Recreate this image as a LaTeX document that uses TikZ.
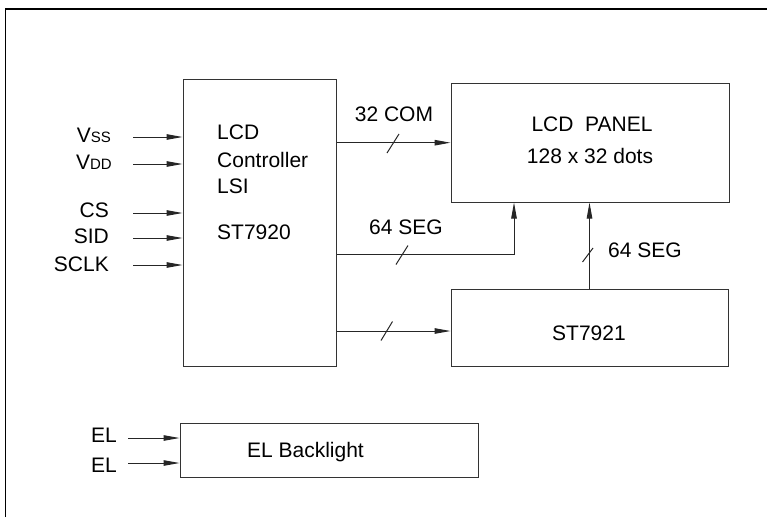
\documentclass[tikz,border=0pt]{standalone}
\usepackage{fontspec}
\setmainfont{Liberation Sans}
\usetikzlibrary{arrows.meta}
\begin{document}
\begin{tikzpicture}[x=1pt,y=-1pt,
  box/.style={draw=black!80,line width=1pt,inner sep=0pt},
  lbl/.style={inner sep=0pt,font=\fontsize{21}{25}\selectfont},
  arr/.style={draw=black!85,line width=1pt,-{Triangle[length=16pt,width=5.5pt]}},
  wire/.style={draw=black!85,line width=1pt},
  slash/.style={draw=black!85,line width=1pt}]
\useasboundingbox (0,0) rectangle (767,517);
% frame
\draw[line width=1.5pt] (5.5,517) -- (5.5,9) -- (767,9);
% boxes
\node[box,minimum width=153.5pt,minimum height=287pt] (ctrl) at (259.75,222.5) {};
\node[box,minimum width=278pt,minimum height=119pt] (panel) at (590,142.5) {};
\node[box,minimum width=277pt,minimum height=77pt] (st) at (589.5,327.5) {};
\node[box,minimum width=298pt,minimum height=54pt] (el) at (329,450) {};
% box texts
\node[lbl,anchor=base west] (t1) at (217,139) {LCD};
\node[lbl,anchor=base west] (t2) at (217,167) {Controller};
\node[lbl,anchor=base west] (t3) at (217,193) {LSI};
\node[lbl,anchor=base west] (t4) at (217,239) {ST7920};
\node[lbl,anchor=base] (p1) at (592,131) {LCD\ \ PANEL};
\node[lbl,anchor=base] (p2) at (590,163) {128 x 32 dots};
\node[lbl,anchor=base] (s1) at (589,340) {ST7921};
\node[lbl,anchor=base] (e1) at (305.5,457) {EL Backlight};
% left inputs
\node[lbl,anchor=base east] (vss) at (111,142) {V{\fontsize{15}{18}\selectfont SS}};
\node[lbl,anchor=base east] (vdd) at (112,169) {V{\fontsize{15}{18}\selectfont DD}};
\node[lbl,anchor=base east] (cs) at (109,217) {CS};
\node[lbl,anchor=base east] (sid) at (109,243) {SID};
\node[lbl,anchor=base east] (sclk) at (109,271.5) {SCLK};
\node[lbl,anchor=base east] (el1) at (117,442) {EL};
\node[lbl,anchor=base east] (el2) at (117,472) {EL};
\coordinate (a1) at (133,137);
\coordinate (a2) at (133,164);
\coordinate (a3) at (133,213);
\coordinate (a4) at (133,238);
\coordinate (a5) at (133,265);
\coordinate (b1) at (128,438);
\coordinate (b2) at (128,463);
\foreach \c in {a1,a2,a3,a4,a5} \draw[arr] (\c) -- (ctrl.west |- \c);
\foreach \c in {b1,b2} \draw[arr] (\c) -- (el.west |- \c);
% buses
\coordinate (com) at (336,142.7);
\coordinate (seg) at (514,254);
\coordinate (s3) at (336,331);
\draw[arr] (ctrl.east |- com) -- (panel.west |- com);
\draw[arr] (ctrl.east |- seg) -| (panel.south -| seg);
\draw[arr] (ctrl.east |- s3) -- (st.west |- s3);
\draw[arr] (st.north) -- (panel.south -| st.north);
% slashes
\draw[slash] (399,134) -- (387,153);
\draw[slash] (408,245.5) -- (396,264.5);
\draw[slash] (392.5,321.5) -- (381,340.5);
\draw[slash] (593,248) -- (582.5,262);
% bus labels
\node[lbl,anchor=base] (l1) at (394,121) {32 COM};
\node[lbl,anchor=base] (l2) at (406,234) {64 SEG};
\node[lbl,anchor=base west] (l3) at (608,257) {64 SEG};
\end{tikzpicture}
\end{document}
